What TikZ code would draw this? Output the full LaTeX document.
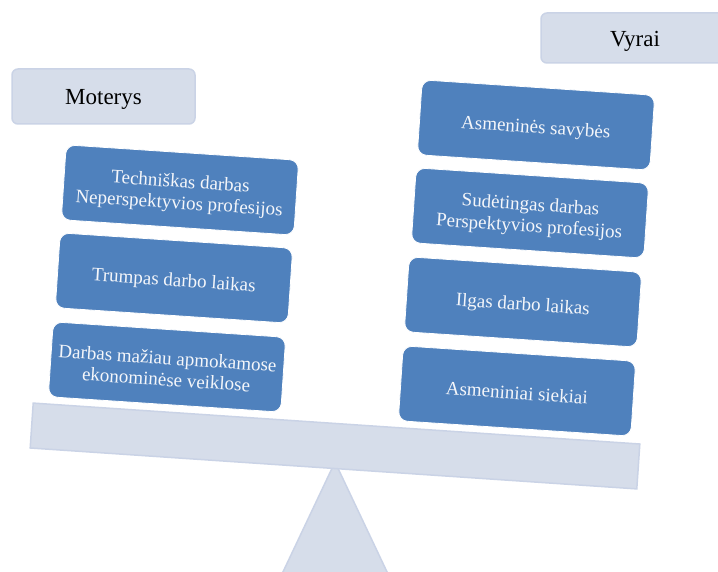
\documentclass[tikz,border=0pt]{standalone}
\usepackage{fontspec}
\setmainfont{Liberation Serif}
\definecolor{boxblue}{HTML}{4F81BD}
\definecolor{boxtext}{HTML}{F4F6FA}
\definecolor{headfill}{HTML}{D6DDEA}
\definecolor{headborder}{HTML}{CAD3E6}
\newcommand{\bxtext}[2][4pt]{\raisebox{-#1}[\height][\depth]{\begin{tabular}{@{}c@{}}#2\end{tabular}}}
\begin{document}
\begin{tikzpicture}[x=1pt,y=-1pt,
  bluebox/.style={draw=white, line width=0.8pt, fill=boxblue, rounded corners=9pt,
    minimum width=233pt, minimum height=75pt, text=boxtext,
    font=\fontsize{19}{21.5}\selectfont, rotate=-3.8, inner sep=0pt},
  headbox/.style={draw=headborder, line width=1.5pt, fill=headfill, rounded corners=6pt,
    font=\fontsize{23}{26}\selectfont, text=black, inner sep=0pt},
  beamstyle/.style={draw=headborder, line width=1.5pt, fill=headfill},
]
\clip (0,0) rectangle (718,572);
\fill[white] (0,0) rectangle (718,572);

% headers
\node[headbox, minimum width=183pt, minimum height=55pt] (mot) at (103.5,96.5) {\bxtext[3pt]{Moterys}};
\node[headbox, minimum width=188pt, minimum height=50pt] (vyr) at (635,38) {\bxtext[3pt]{Vyrai}};

% left column
\node[bluebox] (l1) at (180,190) {\bxtext{Techniškas darbas\\Neperspektyvios profesijos}};
\node[bluebox] (l2) at (174,278) {\bxtext{Trumpas darbo laikas}};
\node[bluebox] (l3) at (167,367) {\bxtext{Darbas mažiau apmokamose\\ekonominėse veiklose}};

% right column
\node[bluebox] (r1) at (536,125) {\bxtext{Asmeninės savybės}};
\node[bluebox] (r2) at (530,213) {\bxtext{Sudėtingas darbas\\Perspektyvios profesijos}};
\node[bluebox] (r3) at (523,302) {\bxtext{Ilgas darbo laikas}};
\node[bluebox] (r4) at (517,391) {\bxtext{Asmeniniai siekiai}};

% fulcrum
\coordinate (apex) at (335,462);
\coordinate (bl) at (282,574);
\coordinate (br) at (388,574);
\draw[beamstyle, line join=miter] (apex) -- (br) -- (bl) -- cycle;

% beam
\node[beamstyle, rotate=-3.86, minimum width=608pt, minimum height=45pt, inner sep=0pt] (beam) at (335,446) {};
\end{tikzpicture}
\end{document}
